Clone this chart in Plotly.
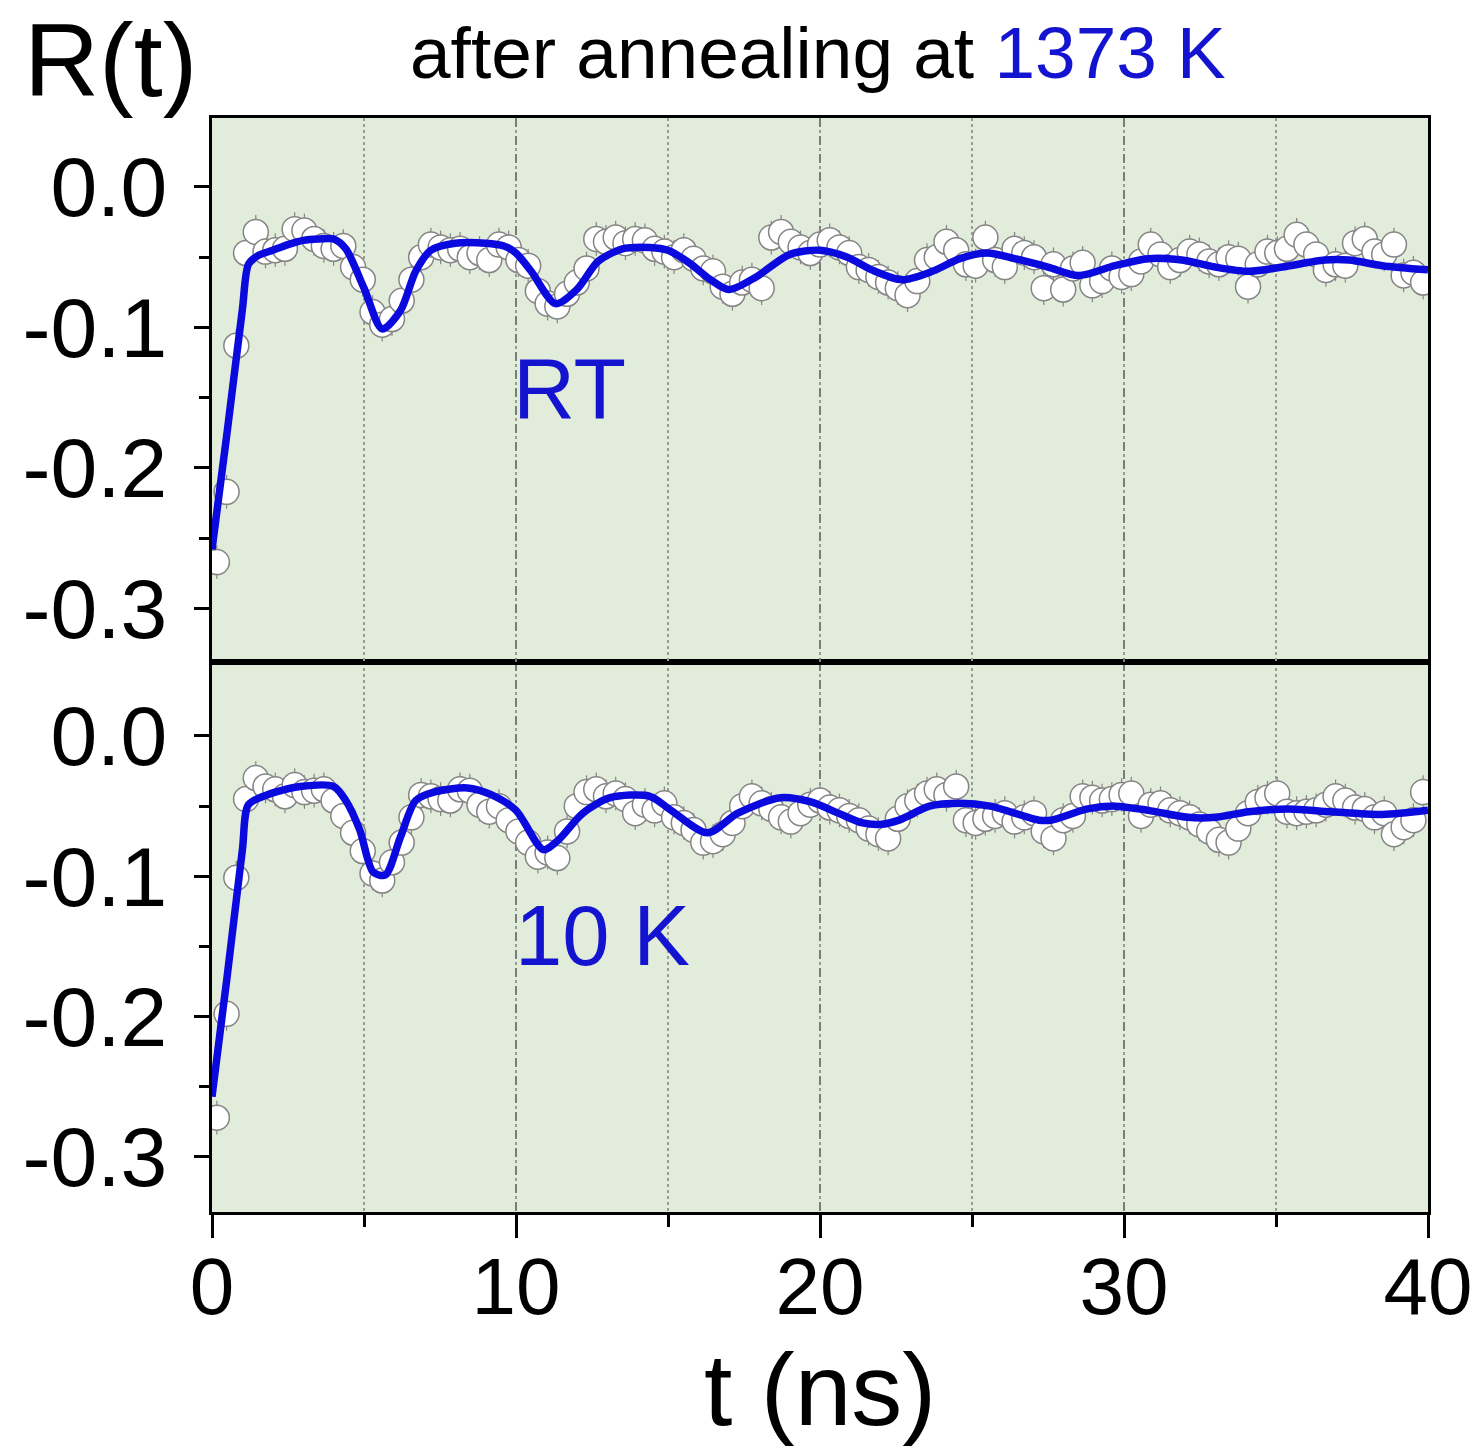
import plotly.graph_objects as go

# ---------------- data ----------------
t_ns = [0.16, 0.48, 0.80, 1.12, 1.44, 1.76, 2.08, 2.40, 2.72, 3.04, 3.36, 3.68, 4.00, 4.32, 4.64,
        4.96, 5.28, 5.60, 5.92, 6.24, 6.56, 6.88, 7.20, 7.52, 7.84, 8.16, 8.48, 8.80, 9.12, 9.44,
        9.76, 10.08, 10.40, 10.72, 11.04, 11.36, 11.68, 12.00, 12.32, 12.64, 12.96, 13.28, 13.60,
        13.92, 14.24, 14.56, 14.88, 15.20, 15.52, 15.84, 16.16, 16.48, 16.80, 17.12, 17.44, 17.76,
        18.08, 18.40, 18.72, 19.04, 19.36, 19.68, 20.00, 20.32, 20.64, 20.96, 21.28, 21.60, 21.92,
        22.24, 22.56, 22.88, 23.20, 23.52, 23.84, 24.16, 24.48, 24.80, 25.12, 25.44, 25.76, 26.08,
        26.40, 26.72, 27.04, 27.36, 27.68, 28.00, 28.32, 28.64, 28.96, 29.28, 29.60, 29.92, 30.24,
        30.56, 30.88, 31.20, 31.52, 31.84, 32.16, 32.48, 32.80, 33.12, 33.44, 33.76, 34.08, 34.40,
        34.72, 35.04, 35.36, 35.68, 36.00, 36.32, 36.64, 36.96, 37.28, 37.60, 37.92, 38.24, 38.56,
        38.88, 39.20, 39.52, 39.84]

r_rt = [-0.267, -0.217, -0.113, -0.047, -0.032, -0.046, -0.045, -0.044, -0.030, -0.031, -0.037,
        -0.042, -0.044, -0.042, -0.057, -0.066, -0.089, -0.098, -0.094, -0.081, -0.066, -0.050,
        -0.041, -0.043, -0.045, -0.044, -0.050, -0.047, -0.052, -0.041, -0.043, -0.052, -0.056,
        -0.074, -0.083, -0.085, -0.076, -0.068, -0.058, -0.037, -0.039, -0.036, -0.040, -0.037,
        -0.038, -0.044, -0.046, -0.050, -0.045, -0.051, -0.058, -0.060, -0.071, -0.076, -0.068,
        -0.066, -0.072, -0.036, -0.032, -0.039, -0.043, -0.047, -0.041, -0.038, -0.043, -0.047,
        -0.057, -0.059, -0.064, -0.068, -0.072, -0.077, -0.067, -0.052, -0.050, -0.039, -0.045,
        -0.055, -0.056, -0.036, -0.052, -0.057, -0.044, -0.047, -0.050, -0.072, -0.055, -0.073,
        -0.058, -0.054, -0.070, -0.067, -0.058, -0.064, -0.062, -0.053, -0.041, -0.048, -0.057,
        -0.052, -0.046, -0.048, -0.053, -0.055, -0.050, -0.051, -0.071, -0.055, -0.046, -0.047,
        -0.044, -0.034, -0.041, -0.048, -0.059, -0.055, -0.056, -0.040, -0.037, -0.046, -0.048,
        -0.041, -0.063, -0.061, -0.068]

r_10k = [-0.272, -0.198, -0.101, -0.045, -0.030, -0.036, -0.038, -0.043, -0.035, -0.040, -0.039,
         -0.038, -0.046, -0.057, -0.069, -0.082, -0.098, -0.103, -0.090, -0.076, -0.058, -0.042,
         -0.043, -0.045, -0.046, -0.038, -0.039, -0.049, -0.054, -0.050, -0.060, -0.068, -0.076,
         -0.086, -0.083, -0.087, -0.068, -0.050, -0.040, -0.038, -0.043, -0.041, -0.045, -0.055,
         -0.049, -0.053, -0.048, -0.058, -0.062, -0.067, -0.076, -0.075, -0.070, -0.062, -0.050,
         -0.043, -0.048, -0.052, -0.058, -0.061, -0.055, -0.049, -0.046, -0.051, -0.053, -0.057,
         -0.060, -0.066, -0.070, -0.073, -0.059, -0.050, -0.046, -0.041, -0.038, -0.042, -0.036,
         -0.060, -0.062, -0.059, -0.057, -0.055, -0.061, -0.058, -0.055, -0.068, -0.073, -0.060,
         -0.057, -0.043, -0.044, -0.046, -0.045, -0.042, -0.041, -0.057, -0.049, -0.048, -0.053,
         -0.055, -0.058, -0.063, -0.068, -0.074, -0.076, -0.066, -0.055, -0.047, -0.044, -0.041,
         -0.054, -0.055, -0.054, -0.053, -0.049, -0.043, -0.046, -0.051, -0.052, -0.058, -0.055,
         -0.070, -0.065, -0.060, -0.040]

r_err = 0.012

fit_t_rt = [0.0, 0.5, 1.0, 1.2, 1.5, 2.0, 2.5, 3.0, 3.5, 4.0, 4.4, 5.0, 5.6, 6.2, 6.7, 7.2, 8.0,
            9.0, 9.6, 10.0, 10.5, 11.3, 12.0, 12.7, 13.5, 14.4, 15.0, 15.7, 16.4, 17.0, 17.9,
            19.0, 20.0, 20.9, 21.7, 22.7, 23.7, 24.6, 25.5, 26.4, 27.5, 28.5, 29.7, 30.8, 31.9,
            33.0, 34.1, 35.2, 36.6, 37.4, 38.5, 40.0]
fit_rt = [-0.258, -0.174, -0.087, -0.055, -0.049, -0.045, -0.041, -0.038, -0.037, -0.037, -0.044,
          -0.072, -0.101, -0.088, -0.060, -0.045, -0.040, -0.040, -0.042, -0.047, -0.060, -0.083,
          -0.073, -0.053, -0.044, -0.043, -0.045, -0.054, -0.066, -0.073, -0.064, -0.048, -0.045,
          -0.050, -0.059, -0.066, -0.060, -0.051, -0.047, -0.051, -0.057, -0.063, -0.056, -0.051,
          -0.052, -0.057, -0.060, -0.057, -0.052, -0.052, -0.056, -0.059]

fit_t_10k = [0.0, 0.5, 1.0, 1.2, 1.8, 2.9, 4.0, 4.4, 4.86, 5.3, 5.7, 6.2, 6.7, 7.3, 8.4, 9.2,
             10.0, 10.9, 11.4, 12.2, 13.1, 14.4, 15.1, 16.3, 17.3, 18.7, 19.7, 20.6, 21.4, 22.0,
             22.6, 23.6, 24.6, 25.6, 27.2, 27.6, 28.8, 29.7, 30.8, 32.1, 33.0, 34.1, 35.4, 36.8,
             38.5, 40.0]
fit_10k = [-0.257, -0.171, -0.081, -0.049, -0.042, -0.036, -0.036, -0.046, -0.067, -0.097, -0.099,
           -0.072, -0.046, -0.040, -0.037, -0.042, -0.053, -0.081, -0.074, -0.055, -0.044, -0.043,
           -0.053, -0.069, -0.055, -0.044, -0.047, -0.055, -0.062, -0.063, -0.060, -0.050, -0.048,
           -0.050, -0.060, -0.060, -0.052, -0.050, -0.053, -0.058, -0.058, -0.054, -0.052, -0.054,
           -0.056, -0.053]

x_tick_vals = [0, 10, 20, 30, 40]
x_tick_text = ["0", "10", "20", "30", "40"]
y_tick_vals = [0.0, -0.1, -0.2, -0.3]
y_tick_text = ["0.0", "-0.1", "-0.2", "-0.3"]
y_minor_vals = [-0.05, -0.15, -0.25]

# ---------------- styling ----------------
FONT = "Liberation Sans, Arial, sans-serif"
BLUE = "#0a0ade"
TXT_BLUE = "#1414d0"
BG = "#e2ecda"
MARK_LINE = "#858585"

fig = go.Figure()


def add_panel(xa, ya, r_vals, ft, fv):
    fig.add_trace(go.Scatter(
        x=t_ns, y=r_vals, xaxis=xa, yaxis=ya, mode="markers",
        marker=dict(symbol="circle", size=25, color="white",
                    line=dict(color=MARK_LINE, width=1.5)),
        error_y=dict(type="constant", value=r_err, color=MARK_LINE,
                     thickness=1.2, width=0),
        showlegend=False, hoverinfo="skip"))
    fig.add_trace(go.Scatter(
        x=ft, y=fv, xaxis=xa, yaxis=ya, mode="lines",
        line=dict(color=BLUE, width=7.5, shape="spline", smoothing=0.8),
        showlegend=False, hoverinfo="skip"))


add_panel("x2", "y2", r_rt, fit_t_rt, fit_rt)
add_panel("x", "y", r_10k, fit_t_10k, fit_10k)

split = 550 / 1094.0
yr_bot = [-0.3392, 0.0527]
yr_top = [-0.3381, 0.0491]

grid_major = dict(showgrid=True, gridcolor="#7c7c7c", griddash="dash", gridwidth=1.5)

xbase = dict(range=[0, 40], tickmode="array", tickvals=x_tick_vals, ticktext=x_tick_text,
             showline=True, linewidth=3, linecolor="black", mirror=True, zeroline=False,
             tickfont=dict(family=FONT, size=80, color="black"),
             **grid_major)

fig.update_layout(
    width=1484, height=1450,
    margin=dict(l=212, r=54, t=118, b=238, pad=0),
    paper_bgcolor="white", plot_bgcolor=BG,
    font=dict(family=FONT, color="black"),
    xaxis=dict(domain=[0, 1], anchor="y", ticks="outside", ticklen=23, tickwidth=3,
               tickcolor="black", ticklabelstandoff=-20,
               minor=dict(tickmode="linear", tick0=0, dtick=5, ticks="outside", ticklen=12,
                          tickwidth=3, tickcolor="black", showgrid=True, gridcolor="#9a9a9a",
                          griddash="dot", gridwidth=1.5),
               **xbase),
    xaxis2=dict(domain=[0, 1], anchor="y2", matches="x", ticks="", showticklabels=False,
                minor=dict(tickmode="linear", tick0=0, dtick=5, ticks="", showgrid=True,
                           gridcolor="#9a9a9a", griddash="dot", gridwidth=1.5),
                **xbase),
    xaxis3=dict(overlaying="x2", anchor="y2", side="top", range=[0, 40],
                tickmode="array", tickvals=x_tick_vals, ticks="inside", ticklen=23,
                tickwidth=3, tickcolor="black", showticklabels=False, showgrid=False,
                showline=False, zeroline=False,
                minor=dict(tickmode="linear", tick0=0, dtick=5, ticks="inside", ticklen=12,
                           tickwidth=3, tickcolor="black", showgrid=False)),
    xaxis4=dict(overlaying="x", anchor="y", side="top", range=[0, 40],
                tickmode="array", tickvals=x_tick_vals, ticks="inside", ticklen=23,
                tickwidth=3, tickcolor="black", showticklabels=False, showgrid=False,
                showline=False, zeroline=False,
                minor=dict(tickmode="linear", tick0=0, dtick=5, ticks="inside", ticklen=12,
                           tickwidth=3, tickcolor="black", showgrid=False)),
)

ybase = dict(tickmode="array", tickvals=y_tick_vals, ticktext=y_tick_text,
             ticks="outside", ticklen=15, tickwidth=3, tickcolor="black",
             ticklabelstandoff=10,
             minor=dict(tickmode="array", tickvals=y_minor_vals, ticks="outside", ticklen=10,
                        tickwidth=3, tickcolor="black", showgrid=False),
             showline=True, linewidth=3, linecolor="black", mirror=True,
             showgrid=False, zeroline=False,
             tickfont=dict(family=FONT, size=84, color="black"))

yright = dict(tickmode="array", tickvals=y_tick_vals, ticks="inside", ticklen=25, tickwidth=3,
              tickcolor="black", showticklabels=False, showgrid=False, showline=False,
              zeroline=False, side="right",
              minor=dict(tickmode="array", tickvals=y_minor_vals, ticks="inside", ticklen=13,
                         tickwidth=3, tickcolor="black", showgrid=False))

fig.update_layout(
    yaxis=dict(domain=[0, split], anchor="x", range=yr_bot, **ybase),
    yaxis2=dict(domain=[split, 1], anchor="x2", range=yr_top, **ybase),
    yaxis3=dict(overlaying="y", anchor="x", range=yr_bot, **yright),
    yaxis4=dict(overlaying="y2", anchor="x2", range=yr_top, **yright),
)

annotations = [
    dict(text="R(t)", xref="paper", yref="paper", x=-0.0837, y=1.053,
         xanchor="center", yanchor="middle", showarrow=False,
         font=dict(family=FONT, size=104, color="black")),
    dict(text="after annealing at <span style='color:%s'>1373 K</span>" % TXT_BLUE,
         xref="paper", yref="paper", x=0.498, y=1.060, xanchor="center", yanchor="middle",
         showarrow=False, font=dict(family=FONT, size=73, color="black")),
    dict(text="t (ns)", xref="paper", yref="paper", x=0.5, y=-0.163,
         xanchor="center", yanchor="middle", showarrow=False,
         font=dict(family=FONT, size=102, color="black")),
    dict(text="RT", xref="x2", yref="y2", x=9.85, y=-0.143, xanchor="left", yanchor="middle",
         showarrow=False, font=dict(family=FONT, size=86, color=TXT_BLUE)),
    dict(text="10 K", xref="x", yref="y", x=9.9, y=-0.142, xanchor="left", yanchor="middle",
         showarrow=False, font=dict(family=FONT, size=85, color=TXT_BLUE)),
]
fig.update_layout(annotations=annotations)

fig.write_html("out.html")
